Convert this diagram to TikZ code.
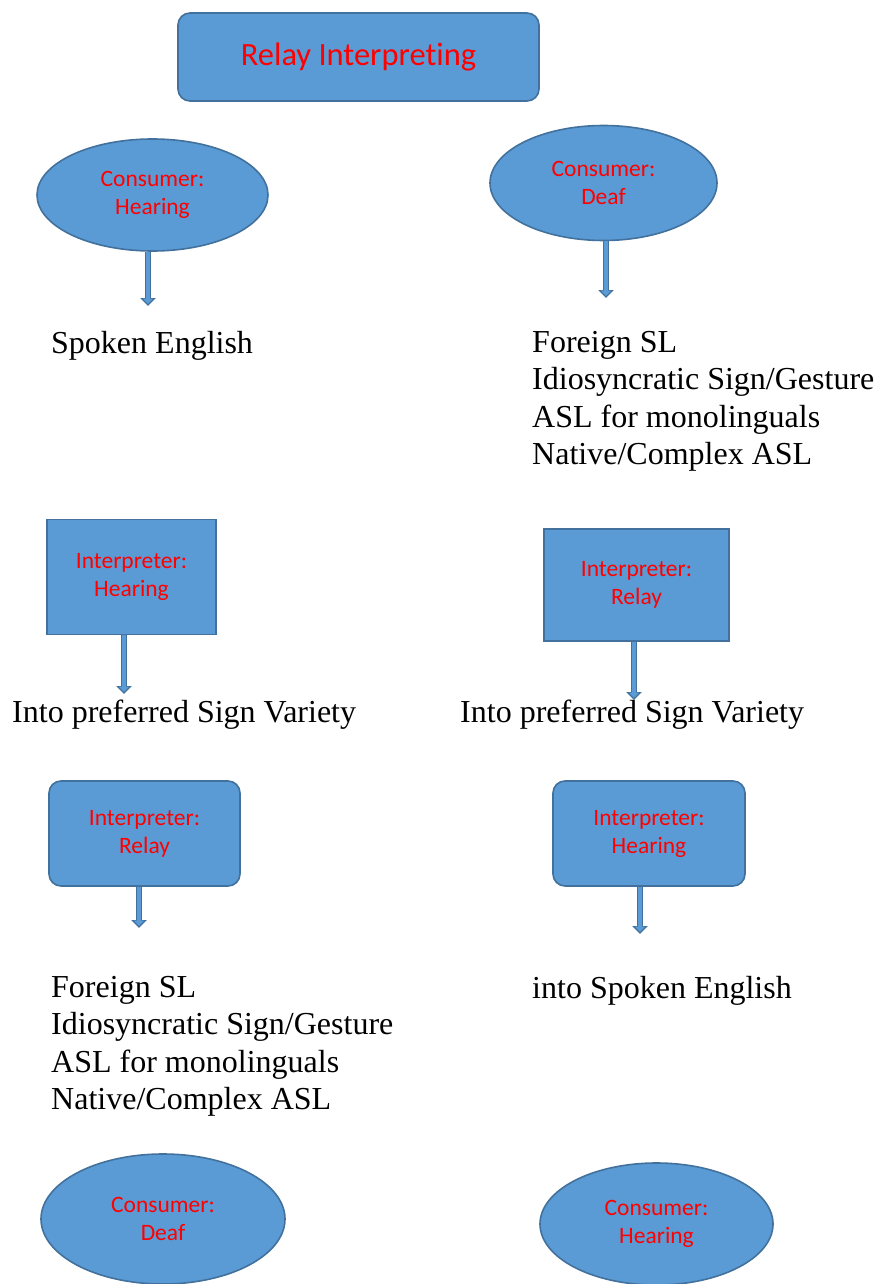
\documentclass[tikz,border=0pt]{standalone}
\usepackage{fontspec}
\setmainfont{Liberation Serif}
\newfontfamily\calibri[Ligatures=NoCommon]{Carlito}
\usetikzlibrary{shapes.geometric,arrows.meta}

\definecolor{boxfill}{HTML}{5B9BD5}
\definecolor{boxedge}{HTML}{41719C}
\definecolor{labelred}{HTML}{FF0000}

\tikzset{
  shapebase/.style={fill=boxfill, draw=boxedge, line width=1.6pt, text=labelred,
    font=\calibri\fontsize{23.5}{28}\selectfont, align=center, inner sep=0pt},
  consumer/.style={shapebase, ellipse},
  interp/.style={shapebase, rectangle},
  roundbox/.style={shapebase, rectangle, rounded corners=12pt},
  langtext/.style={anchor=north west, align=left, inner sep=0pt,
    font=\fontsize{32}{37.5}\selectfont},
  blockarrow/.style={draw=boxedge, line width=6pt, -{Triangle[length=8pt,width=15pt]},
    postaction={draw=boxfill, line width=3.2pt, shorten >=2pt, -{Triangle[length=5.5pt,width=10pt]}}}
}

\begin{document}
\begin{tikzpicture}[x=1pt,y=-1pt]
    \useasboundingbox (0,0) rectangle (878,1284);

    % Titel
    \node[roundbox, minimum width=361pt, minimum height=88pt,
      font=\calibri\fontsize{32.5}{38}\selectfont] (title) at (358.5,57) {Relay Interpreting};

    % Zeile 1
    \node[consumer, minimum width=231pt, minimum height=112pt] (chear) at (152.5,195) {Consumer:\\Hearing};
    \node[consumer, minimum width=227pt, minimum height=115pt] (cdeaf) at (603.5,183) {Consumer:\\Deaf};
    \coordinate (e1) at (148,306);
    \coordinate (e2) at (606,298);
    \draw[blockarrow] (chear.south -| e1) -- (e1);
    \draw[blockarrow] (cdeaf.south -| e2) -- (e2);

    \node[langtext] (spoken) at (51,331) {Spoken English};
    \node[langtext] (signs1) at (532,331) {Foreign SL\\Idiosyncratic Sign/Gesture\\ASL for monolinguals\\Native/Complex ASL};

    % Zeile 2
    \node[interp, minimum width=169pt, minimum height=115pt] (ihear) at (131.5,577) {Interpreter:\\Hearing};
    \node[interp, minimum width=185pt, minimum height=112pt] (irelay) at (636.5,585) {Interpreter:\\Relay};
    \coordinate (e3) at (124,694);
    \coordinate (e4) at (634,700);
    \draw[blockarrow] (ihear.south -| e3) -- (e3);
    \draw[blockarrow] (irelay.south -| e4) -- (e4);

    \node[langtext] (into1) at (12,700) {Into preferred Sign Variety};
    \node[langtext] (into2) at (460,700) {Into preferred Sign Variety};

    % Zeile 3
    \node[roundbox, minimum width=191pt, minimum height=105pt] (irelay2) at (144.5,833.5) {Interpreter:\\Relay};
    \node[roundbox, minimum width=192pt, minimum height=105pt] (ihear2) at (649,833.5) {Interpreter:\\Hearing};
    \coordinate (e5) at (139,928);
    \coordinate (e6) at (640,934);
    \draw[blockarrow] (irelay2.south -| e5) -- (e5);
    \draw[blockarrow] (ihear2.south -| e6) -- (e6);

    \node[langtext] (signs2) at (51,976) {Foreign SL\\Idiosyncratic Sign/Gesture\\ASL for monolinguals\\Native/Complex ASL};
    \node[langtext] (spoken2) at (532,976) {into Spoken English};

    % Zeile 4
    \node[consumer, minimum width=244pt, minimum height=130pt] (cdeaf2) at (163,1219) {Consumer:\\Deaf};
    \node[consumer, minimum width=233pt, minimum height=122pt] (chear2) at (656.5,1224) {Consumer:\\Hearing};
\end{tikzpicture}
\end{document}
